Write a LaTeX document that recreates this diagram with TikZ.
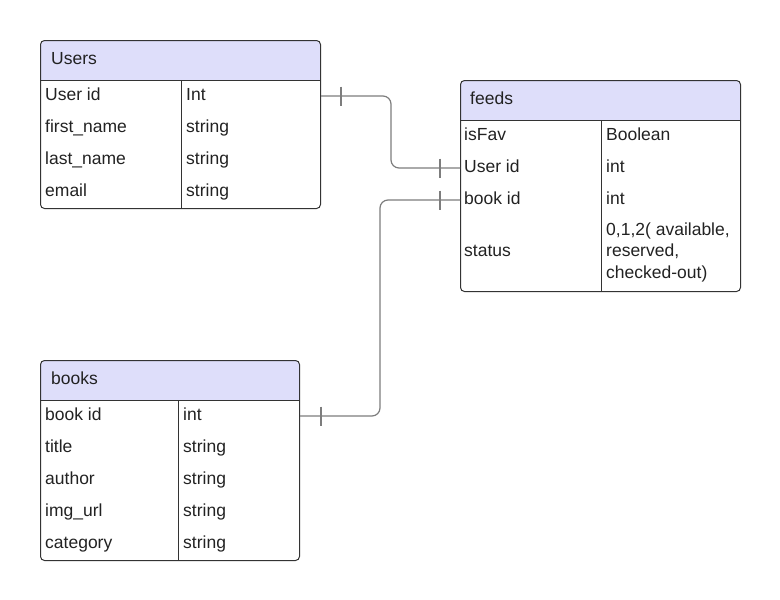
\documentclass[tikz,border=0pt]{standalone}
\usepackage{fontspec}
\setmainfont{Liberation Sans}
\usetikzlibrary{positioning}
\definecolor{headfill}{RGB}{222,222,250}
\definecolor{frame}{RGB}{51,51,51}
\definecolor{linkgray}{RGB}{125,125,125}
\definecolor{txt}{RGB}{34,34,34}

\begin{document}
\begin{tikzpicture}[x=1pt,y=-1pt,
        every node/.style={font=\fontsize{17.5}{21.5}\selectfont, text=txt, inner sep=0pt},
        entity/.style n args={2}{draw=frame, line width=1pt, rounded corners=4pt,
            anchor=north west, minimum width=#1pt, minimum height=#2pt,
            path picture={\fill[headfill, sharp corners] (path picture bounding box.north west)
                rectangle ([yshift=-40pt]path picture bounding box.north east);}},
        field/.style={anchor=west, text height=12pt, text depth=4pt},
        rule/.style={draw=frame, line width=1pt},
        link/.style={draw=linkgray, line width=1.2pt, rounded corners=8pt},
        tick/.style={draw=linkgray, line width=1.2pt}]
        \useasboundingbox (0,0) rectangle (780,600);

        % Users
        \node[entity={280}{168}] (users) at (40,40) {};
        \draw[rule] (40,80) -- (320,80);
        \draw[rule] (181,80) -- (181,208);
        \node[anchor=base west] (users-t) at (51,64) {Users};
        \node[field] (u1) at (45,96) {User id};
        \node[field] (u2) at (45,128) {first\_name};
        \node[field] (u3) at (45,160) {last\_name};
        \node[field] (u4) at (45,192) {email};
        \node[field] (u1v) at (186,96) {Int};
        \node[field] (u2v) at (186,128) {string};
        \node[field] (u3v) at (186,160) {string};
        \node[field] (u4v) at (186,192) {string};

        % feeds
        \node[entity={280}{211}] (feeds) at (460,80) {};
        \draw[rule] (460,120) -- (740,120);
        \draw[rule] (601,120) -- (601,291);
        \node[anchor=base west] (feeds-t) at (470,104) {feeds};
        \node[field] (f1) at (464,136) {isFav};
        \node[field] (f2) at (464,168) {User id};
        \node[field] (f3) at (464,200) {book id};
        \node[field] (f4) at (464,252.5) {status};
        \node[field] (f1v) at (606,136) {Boolean};
        \node[field] (f2v) at (606,168) {int};
        \node[field] (f3v) at (606,200) {int};
        \node[anchor=west, align=left] (f4v) at (606,252) {0,1,2( available,\\reserved,\\checked-out)};

        % books
        \node[entity={259}{200}] (books) at (40,360) {};
        \draw[rule] (40,400) -- (299,400);
        \draw[rule] (178,400) -- (178,560);
        \node[anchor=base west] (books-t) at (51,384) {books};
        \node[field] (b1) at (45,416) {book id};
        \node[field] (b2) at (45,448) {title};
        \node[field] (b3) at (45,480) {author};
        \node[field] (b4) at (45,512) {img\_url};
        \node[field] (b5) at (45,544) {category};
        \node[field] (b1v) at (183,416) {int};
        \node[field] (b2v) at (183,448) {string};
        \node[field] (b3v) at (183,480) {string};
        \node[field] (b4v) at (183,512) {string};
        \node[field] (b5v) at (183,544) {string};

        % links
        \coordinate (p1) at (users.east |- u1);
        \coordinate (p2) at (feeds.west |- f2);
        \coordinate (p3) at (feeds.west |- f3);
        \coordinate (p4) at (books.east |- b1);
        \draw[link] (p1) -- ++(70,0) |- (p2);
        \draw[link] (p3) -- ++(-80,0) |- (p4);
        \draw[tick] ([xshift=20pt]p1) +(0,-9.5) -- +(0,9.5);
        \draw[tick] ([xshift=-20pt]p2) +(0,-9.5) -- +(0,9.5);
        \draw[tick] ([xshift=-20pt]p3) +(0,-9.5) -- +(0,9.5);
        \draw[tick] ([xshift=21pt]p4) +(0,-9.5) -- +(0,9.5);
    \end{tikzpicture}
\end{document}
